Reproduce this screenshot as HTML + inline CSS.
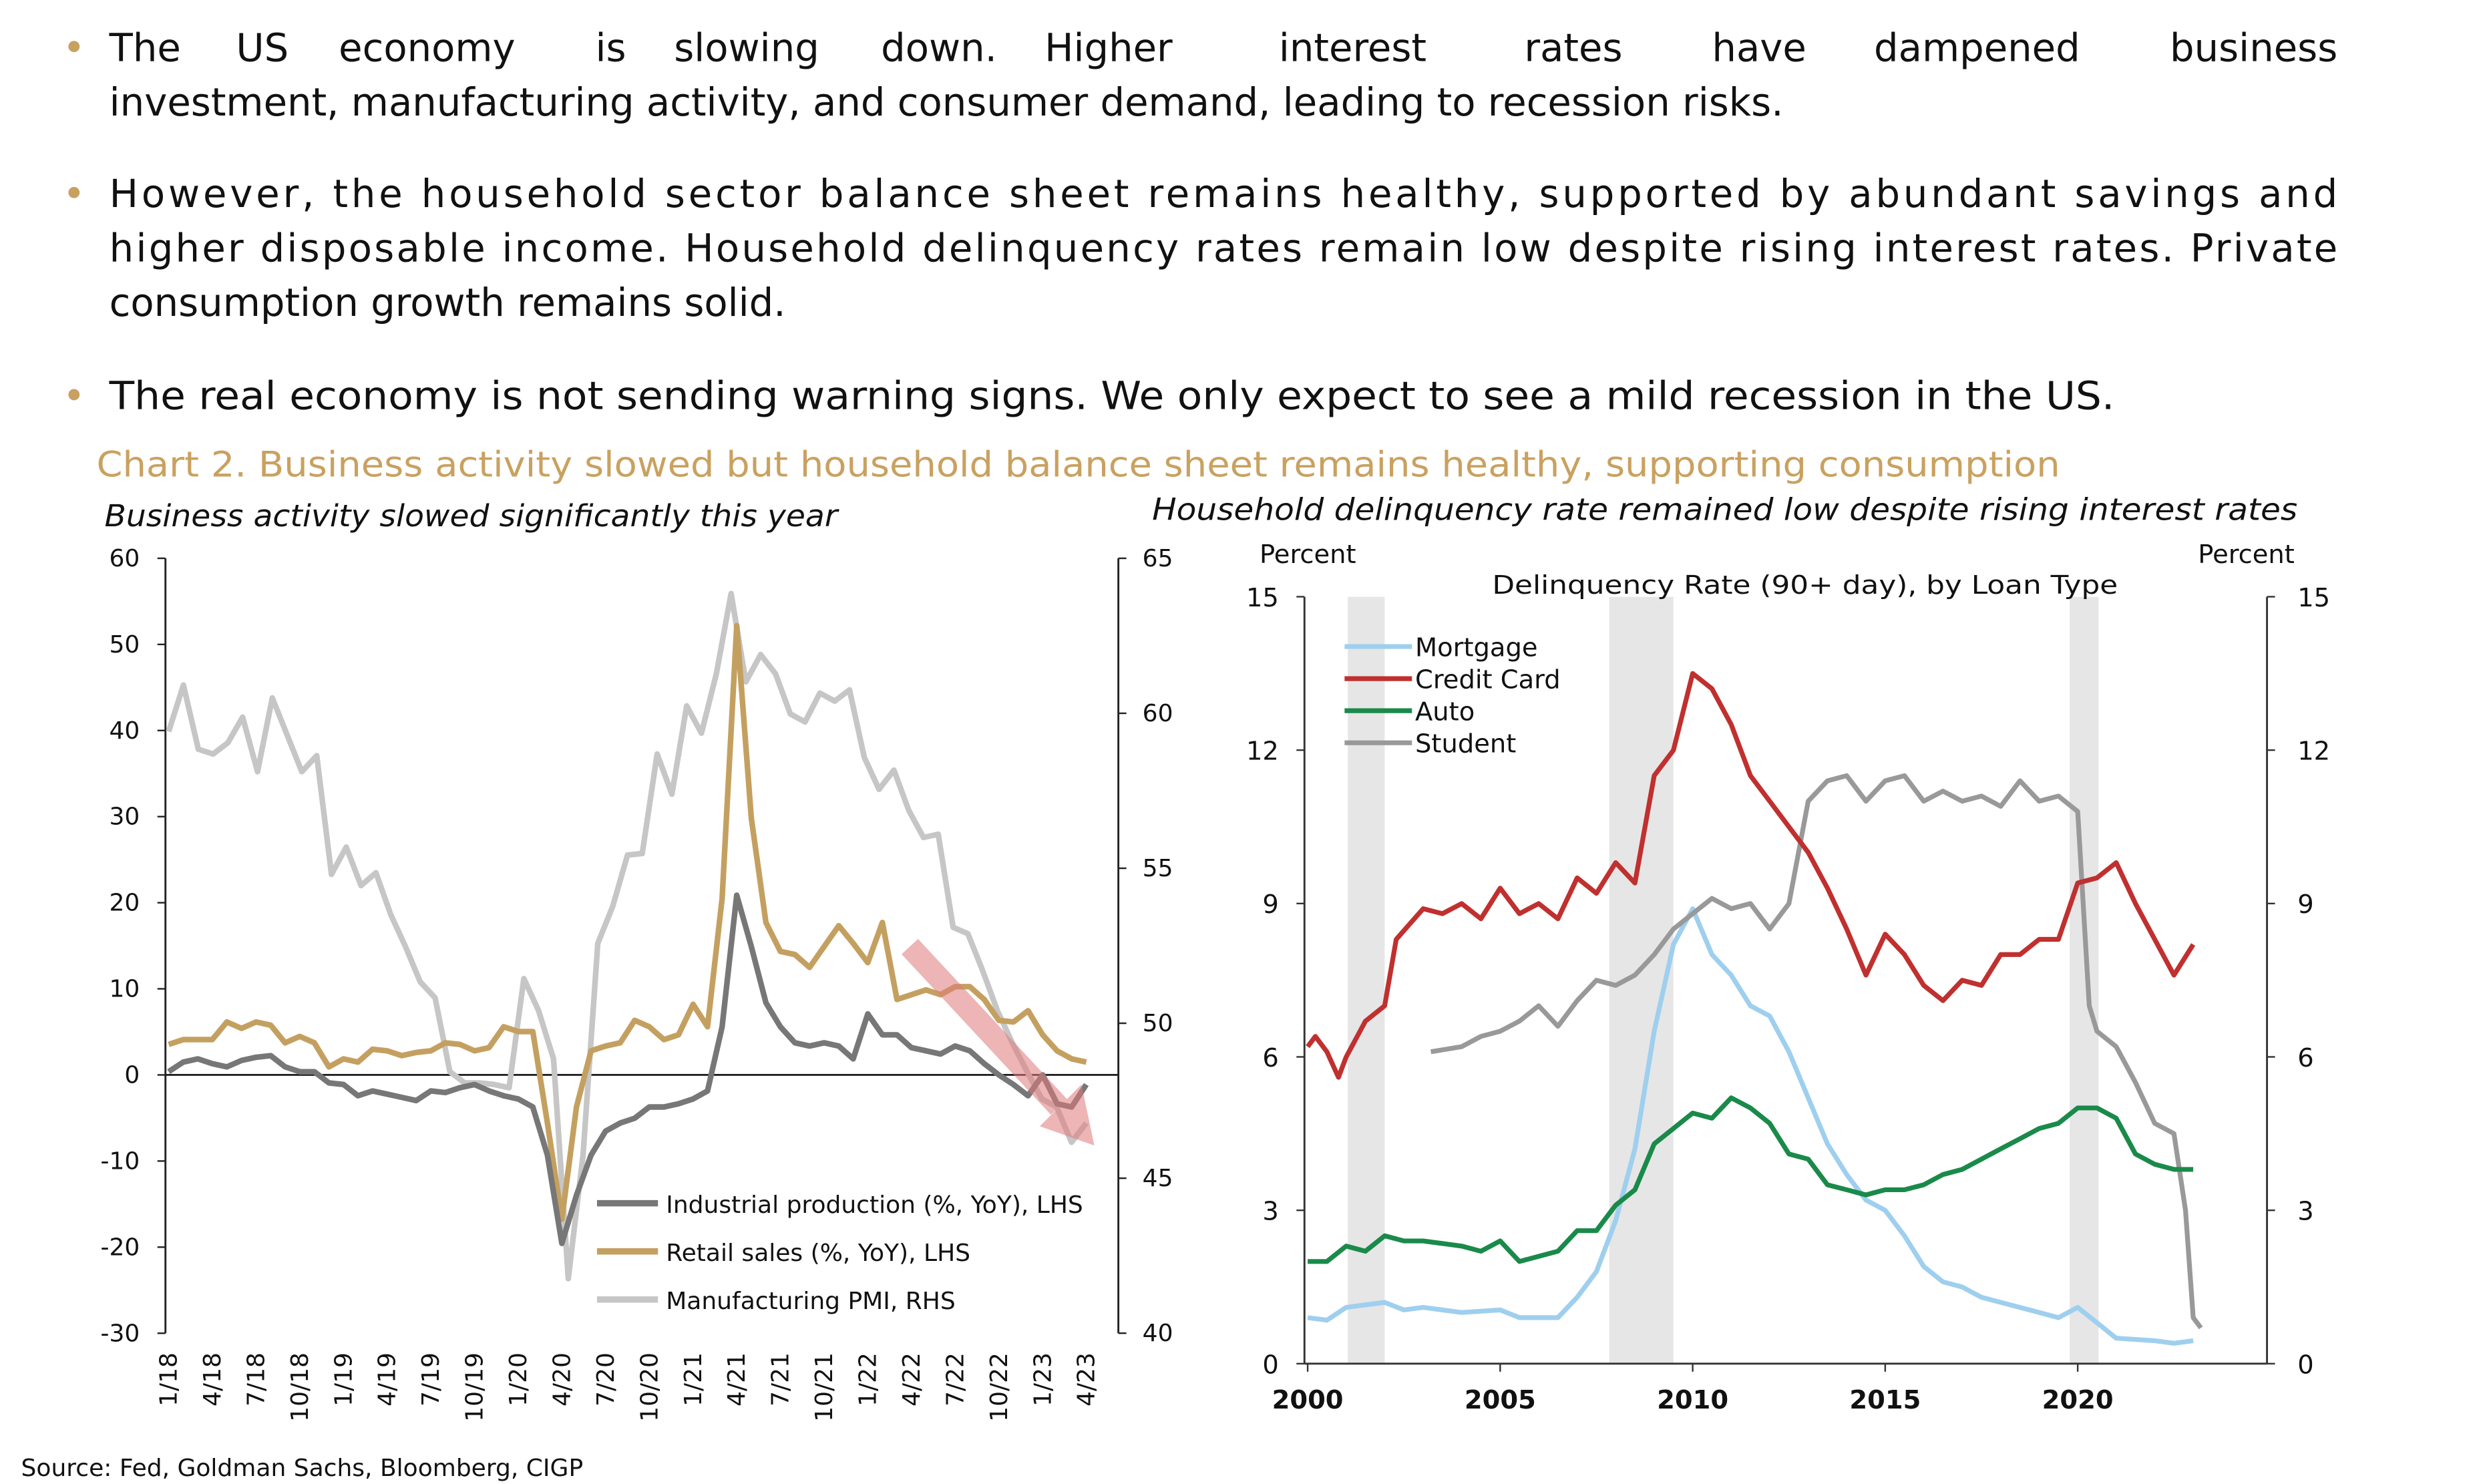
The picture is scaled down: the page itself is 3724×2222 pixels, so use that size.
<!DOCTYPE html>
<html><head><meta charset="utf-8"><style>
html,body{margin:0;padding:0;background:#fff}
svg{display:block}
text{font-family:"DejaVu Sans","Liberation Sans",sans-serif;fill:#111}
</style></head><body>
<svg id="s" width="3724" height="2222" viewBox="0 0 1550 925" xmlns="http://www.w3.org/2000/svg">
<rect width="1550" height="925" fill="#fff"/>
<g font-size="24">
<circle cx="46" cy="29" r="3.5" fill="#c8a060"/>
<text x="68" y="38">The</text><text x="147" y="38">US</text><text x="211" y="38">economy</text><text x="371" y="38">is</text><text x="420" y="38">slowing</text><text x="549" y="38">down.</text><text x="651" y="38">Higher</text><text x="797" y="38">interest</text><text x="950" y="38">rates</text><text x="1067" y="38">have</text><text x="1168" y="38">dampened</text><text x="1457" y="38" text-anchor="end">business</text>
<text x="68" y="72">investment,  manufacturing activity, and consumer demand, leading to recession risks.</text>
<circle cx="46" cy="120" r="3.5" fill="#c8a060"/>
<text x="68" y="129" textLength="1389" lengthAdjust="spacing">However, the household sector balance sheet remains healthy, supported by abundant savings and</text>
<text x="68" y="163" textLength="1389" lengthAdjust="spacing">higher disposable income. Household delinquency rates remain low despite rising interest rates. Private</text>
<text x="68" y="197">consumption growth remains solid.</text>
<circle cx="46" cy="246" r="3.5" fill="#c8a060"/>
<text x="68" y="255" textLength="1250" lengthAdjust="spacingAndGlyphs">The real economy is not sending warning signs. We only expect to see a mild recession in the US.</text>
</g>
<text x="60" y="297" font-size="22" style="fill:#c9a15f" textLength="1224" lengthAdjust="spacingAndGlyphs">Chart 2. Business activity slowed but household balance sheet remains healthy, supporting consumption</text>
<text x="65" y="328" font-size="19" font-style="italic" textLength="457" lengthAdjust="spacingAndGlyphs">Business activity slowed significantly this year</text>
<text x="718" y="324" font-size="19" font-style="italic" textLength="714" lengthAdjust="spacingAndGlyphs">Household delinquency rate remained low despite rising interest rates</text>

<g stroke="#222" stroke-width="1.2" fill="none">
<line x1="103" y1="348" x2="103" y2="831"/>
<line x1="697" y1="348" x2="697" y2="831"/>
<line x1="103" y1="670" x2="697" y2="670"/>
</g>
<g id="lt" font-size="15"></g>
<g id="lser"></g>
<g opacity="0.55">
<line x1="567" y1="590" x2="660" y2="690" stroke="#e07a7a" stroke-width="14"/>
<polygon points="648,702 674,676 682,714" fill="#e07a7a"/>
</g>
<g font-size="15">
<line x1="372" y1="750" x2="410" y2="750" stroke="#777" stroke-width="4"/><text x="415" y="756">Industrial production (%, YoY), LHS</text>
<line x1="372" y1="780" x2="410" y2="780" stroke="#c4a060" stroke-width="4"/><text x="415" y="786">Retail sales (%, YoY), LHS</text>
<line x1="372" y1="810" x2="410" y2="810" stroke="#c6c6c6" stroke-width="4"/><text x="415" y="816">Manufacturing PMI, RHS</text>
</g>

<rect x="840" y="372" width="23" height="478" fill="#e6e6e6"/>
<rect x="1003" y="372" width="40" height="478" fill="#e6e6e6"/>
<rect x="1290" y="372" width="18" height="478" fill="#e6e6e6"/>
<g stroke="#333" stroke-width="1.2" fill="none">
<line x1="813" y1="372" x2="813" y2="850"/>
<line x1="1413" y1="372" x2="1413" y2="850"/>
<line x1="813" y1="850" x2="1413" y2="850"/>
</g>
<g id="rt" font-size="16"></g>
<text x="785" y="351" font-size="16">Percent</text>
<text x="1370" y="351" font-size="16">Percent</text>
<text x="930" y="370" font-size="16" textLength="390" lengthAdjust="spacingAndGlyphs">Delinquency Rate (90+ day), by Loan Type</text>
<g id="rser"></g>
<g font-size="16">
<line x1="838" y1="403" x2="880" y2="403" stroke="#9fcfee" stroke-width="3"/><text x="882" y="409">Mortgage</text>
<line x1="838" y1="423" x2="880" y2="423" stroke="#c0302f" stroke-width="3"/><text x="882" y="429">Credit Card</text>
<line x1="838" y1="443" x2="880" y2="443" stroke="#1a8a4a" stroke-width="3"/><text x="882" y="449">Auto</text>
<line x1="838" y1="463" x2="880" y2="463" stroke="#999" stroke-width="3"/><text x="882" y="469">Student</text>
</g>
<text x="13" y="920" font-size="15">Source: Fed, Goldman Sachs, Bloomberg, CIGP</text>
</svg>
<script>
var NS="http://www.w3.org/2000/svg";
function el(p,t,a,txt){var e=document.createElementNS(NS,t);for(var k in a)e.setAttribute(k,a[k]);if(txt!=null)e.textContent=txt;p.appendChild(e);return e;}
var lt=document.getElementById('lt');
for(var v=60;v>=-30;v-=10){var y=348+(60-v)*5.367;el(lt,'text',{x:87,y:y+5,'text-anchor':'end'},v);el(lt,'line',{x1:98,y1:y,x2:103,y2:y,stroke:'#222'});}
for(var v=65;v>=40;v-=5){var y=348+(65-v)*19.32;el(lt,'text',{x:712,y:y+5},v);el(lt,'line',{x1:697,y1:y,x2:702,y2:y,stroke:'#222'});}
var xl=["1/18","4/18","7/18","10/18","1/19","4/19","7/19","10/19","1/20","4/20","7/20","10/20","1/21","4/21","7/21","10/21","1/22","4/22","7/22","10/22","1/23","4/23"];
for(var i=0;i<xl.length;i++){var x=105+i*3*9.08;el(lt,'text',{x:0,y:0,'text-anchor':'end',transform:'translate('+(x+5)+',843) rotate(-90)'},xl[i]);}
function lpath(arr,col,w){var d='';var n=arr.length;for(var i=0;i<n;i++){var x=105+i*572/(n-1);d+=(i?'L':'M')+x.toFixed(1)+','+arr[i];}el(document.getElementById('lser'),'path',{d:d,fill:'none',stroke:col,'stroke-width':w,'stroke-linejoin':'round'});}
var pmi=[456,427,467,470,463,447,481,435,458,481,471,545,528,552,544,570,590,612,622,668,675,675,676,678,610,630,660,797,720,588,565,533,532,470,495,440,457,420,370,425,408,420,445,450,432,437,430,472,492,480,505,522,520,578,582,605,630,650,668,685,690,712,700];
var ret=[651,648,648,648,637,641,637,639,650,646,650,665,660,662,654,655,658,656,655,650,651,655,653,640,643,643,700,760,690,655,652,650,636,640,648,645,626,640,560,390,510,575,593,595,603,590,577,588,600,575,623,620,617,620,615,615,623,636,637,630,645,655,660,662];
var ind=[668,662,660,663,665,661,659,658,665,668,668,675,676,683,680,682,684,686,680,681,678,676,680,683,685,690,720,775,745,720,705,700,697,690,690,688,685,680,640,558,590,625,640,650,652,650,652,660,632,645,645,653,655,657,652,655,663,670,676,683,670,688,690,676];
lpath(pmi,'#c6c6c6',3.5);lpath(ret,'#c4a060',3.5);lpath(ind,'#777',3.5);
var rt=document.getElementById('rt');
for(var v=0;v<=15;v+=3){var y=850-v*31.87;el(rt,'text',{x:797,y:y+6,'text-anchor':'end'},v);el(rt,'text',{x:1432,y:y+6},v);el(rt,'line',{x1:808,y1:y,x2:813,y2:y,stroke:'#333'});el(rt,'line',{x1:1413,y1:y,x2:1418,y2:y,stroke:'#333'});}
for(var yr=2000;yr<=2020;yr+=5){var x=815+(yr-2000)*24;el(rt,'text',{x:x,y:878,'text-anchor':'middle','font-weight':'bold'},yr);el(rt,'line',{x1:x,y1:850,x2:x,y2:855,stroke:'#333'});}
function rpath(a,col){var d='';for(var i=0;i<a.length;i+=2){var x=815+(a[i]-2000)*24,y=850-a[i+1]*31.87;d+=(i?'L':'M')+x.toFixed(1)+','+y.toFixed(1);}el(document.getElementById('rser'),'path',{d:d,fill:'none',stroke:col,'stroke-width':3,'stroke-linejoin':'round'});}
rpath([2000,0.9,2000.5,0.85,2001,1.1,2002,1.2,2002.5,1.05,2003,1.1,2004,1.0,2005,1.05,2005.5,0.9,2006.5,0.9,2007,1.3,2007.5,1.8,2008,2.8,2008.5,4.2,2009,6.5,2009.5,8.2,2010,8.9,2010.5,8.0,2011,7.6,2011.5,7.0,2012,6.8,2012.5,6.1,2013,5.2,2013.5,4.3,2014,3.7,2014.5,3.2,2015,3.0,2015.5,2.5,2016,1.9,2016.5,1.6,2017,1.5,2017.5,1.3,2018,1.2,2019,1.0,2019.5,0.9,2020,1.1,2020.5,0.8,2021,0.5,2022,0.45,2022.5,0.4,2023,0.45],'#9fcfee');
rpath([2003.2,6.1,2004,6.2,2004.5,6.4,2005,6.5,2005.5,6.7,2006,7.0,2006.5,6.6,2007,7.1,2007.5,7.5,2008,7.4,2008.5,7.6,2009,8.0,2009.5,8.5,2010,8.8,2010.5,9.1,2011,8.9,2011.5,9.0,2012,8.5,2012.5,9.0,2013,11.0,2013.5,11.4,2014,11.5,2014.5,11.0,2015,11.4,2015.5,11.5,2016,11.0,2016.5,11.2,2017,11.0,2017.5,11.1,2018,10.9,2018.5,11.4,2019,11.0,2019.5,11.1,2020,10.8,2020.3,7.0,2020.5,6.5,2021,6.2,2021.5,5.5,2022,4.7,2022.5,4.5,2022.8,3.0,2023,0.9,2023.2,0.7],'#999');
rpath([2000,6.2,2000.2,6.4,2000.5,6.1,2000.8,5.6,2001,6.0,2001.5,6.7,2002,7.0,2002.3,8.3,2003,8.9,2003.5,8.8,2004,9.0,2004.5,8.7,2005,9.3,2005.5,8.8,2006,9.0,2006.5,8.7,2007,9.5,2007.5,9.2,2008,9.8,2008.5,9.4,2009,11.5,2009.5,12.0,2010,13.5,2010.5,13.2,2011,12.5,2011.5,11.5,2012,11.0,2012.5,10.5,2013,10.0,2013.5,9.3,2014,8.5,2014.5,7.6,2015,8.4,2015.5,8.0,2016,7.4,2016.5,7.1,2017,7.5,2017.5,7.4,2018,8.0,2018.5,8.0,2019,8.3,2019.5,8.3,2020,9.4,2020.5,9.5,2021,9.8,2021.5,9.0,2022,8.3,2022.5,7.6,2023,8.2],'#c0302f');
rpath([2000,2.0,2000.5,2.0,2001,2.3,2001.5,2.2,2002,2.5,2002.5,2.4,2003,2.4,2004,2.3,2004.5,2.2,2005,2.4,2005.5,2.0,2006,2.1,2006.5,2.2,2007,2.6,2007.5,2.6,2008,3.1,2008.5,3.4,2009,4.3,2009.5,4.6,2010,4.9,2010.5,4.8,2011,5.2,2011.5,5.0,2012,4.7,2012.5,4.1,2013,4.0,2013.5,3.5,2014,3.4,2014.5,3.3,2015,3.4,2015.5,3.4,2016,3.5,2016.5,3.7,2017,3.8,2017.5,4.0,2018,4.2,2018.5,4.4,2019,4.6,2019.5,4.7,2020,5.0,2020.5,5.0,2021,4.8,2021.5,4.1,2022,3.9,2022.5,3.8,2023,3.8],'#1a8a4a');
</script>
</body></html>
